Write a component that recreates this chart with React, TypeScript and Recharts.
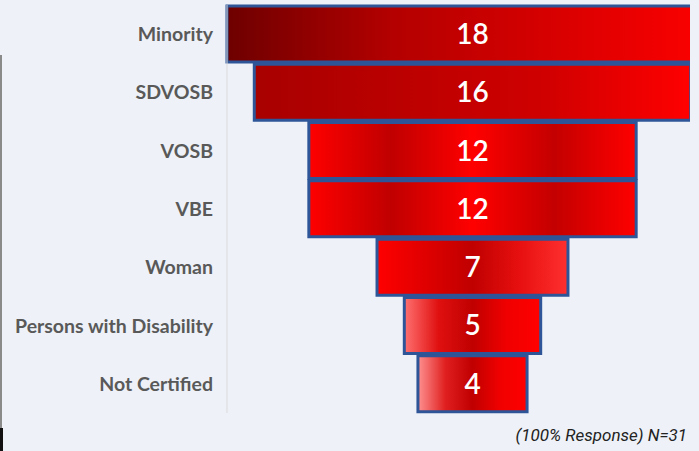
import React from "react";
import { BarChart, Bar, XAxis, YAxis, Cell, LabelList } from "recharts";

const categories = [
  "Minority",
  "SDVOSB",
  "VOSB",
  "VBE",
  "Woman",
  "Persons with Disability",
  "Not Certified",
];
const counts = [18, 16, 12, 12, 7, 5, 4];
const maxCount = 18;
const footnote = "(100% Response) N=31";

// one gradient per bar, roughly following the glossy fills of the original
const gradients = [
  ["#6e0000", "#b30000", "#d80000", "#ff0000"],
  ["#a80000", "#bb0000", "#d00000", "#ff0000"],
  ["#ff0000", "#c00000", "#ff0000", "#c40000", "#ff0000"],
  ["#ff0000", "#c00000", "#ff0000", "#c40000", "#ff0000"],
  ["#ff0000", "#e00000", "#c00000", "#e81010", "#ff3030"],
  ["#ff7070", "#e01010", "#c00000", "#f00000", "#ff0000"],
  ["#ff9090", "#e02020", "#c00000", "#f00000", "#ff0000"],
];

const data = categories.map((name, i) => ({
  name,
  pad: (maxCount - counts[i]) / 2,
  value: counts[i],
}));

const CategoryTick = (props: any) => {
  const { x, y, payload } = props;
  return (
    <text
      x={x - 6}
      y={y}
      dy={7}
      textAnchor="end"
      fill="#595959"
      fontFamily="Lato, 'Open Sans', sans-serif"
      fontWeight={700}
      fontSize={19.5}
    >
      {payload.value}
    </text>
  );
};

const ValueLabel = (props: any) => {
  const { x, y, width, height, value } = props;
  return (
    <text
      x={x + width / 2}
      y={y + height / 2 + 10}
      textAnchor="middle"
      fill="#ffffff"
      fontFamily="Lato, 'Open Sans', sans-serif"
      fontWeight={600}
      fontSize={28}
    >
      {value}
    </text>
  );
};

export default function App() {
  return (
    <div
      style={{
        position: "absolute",
        left: 0,
        top: 0,
        width: 699,
        height: 451,
        background: "#eef2f8",
        overflow: "hidden",
      }}
    >
      <div style={{ position: "absolute", left: 0, top: 55, width: 2, height: 375, background: "#8a8a8a" }} />
      <div style={{ position: "absolute", left: 0, top: 428, width: 3, height: 23, background: "#111" }} />
      <div style={{ position: "absolute", left: 0, top: 0, width: 690, height: 451, overflow: "hidden" }}>
        <BarChart
          width={722}
          height={451}
          data={data}
          layout="vertical"
          margin={{ top: 5, right: 4, bottom: 38, left: 0 }}
          barCategoryGap={1}
        >
          <defs>
            {gradients.map((stops, i) => (
              <linearGradient key={i} id={`grad${i}`} x1="0" y1="0" x2="1" y2="0">
                {stops.map((c, j) => (
                  <stop key={j} offset={`${(j / (stops.length - 1)) * 100}%`} stopColor={c} />
                ))}
              </linearGradient>
            ))}
          </defs>
          <XAxis type="number" domain={[0, maxCount]} hide />
          <YAxis
            type="category"
            dataKey="name"
            width={227}
            axisLine={{ stroke: "#d9d9d9" }}
            tickLine={false}
            tick={<CategoryTick />}
            interval={0}
          />
          <Bar dataKey="pad" stackId="f" fill="transparent" isAnimationActive={false} />
          <Bar
            dataKey="value"
            stackId="f"
            stroke="#2e5597"
            strokeWidth={3}
            isAnimationActive={false}
          >
            {data.map((_, i) => (
              <Cell key={i} fill={`url(#grad${i})`} />
            ))}
            <LabelList dataKey="value" content={<ValueLabel />} />
          </Bar>
        </BarChart>
      </div>
      <div
        style={{
          position: "absolute",
          right: 12,
          top: 425,
          fontFamily: "Roboto, sans-serif",
          fontStyle: "italic",
          fontSize: 17,
          color: "#222",
        }}
      >
        {footnote}
      </div>
    </div>
  );
}
